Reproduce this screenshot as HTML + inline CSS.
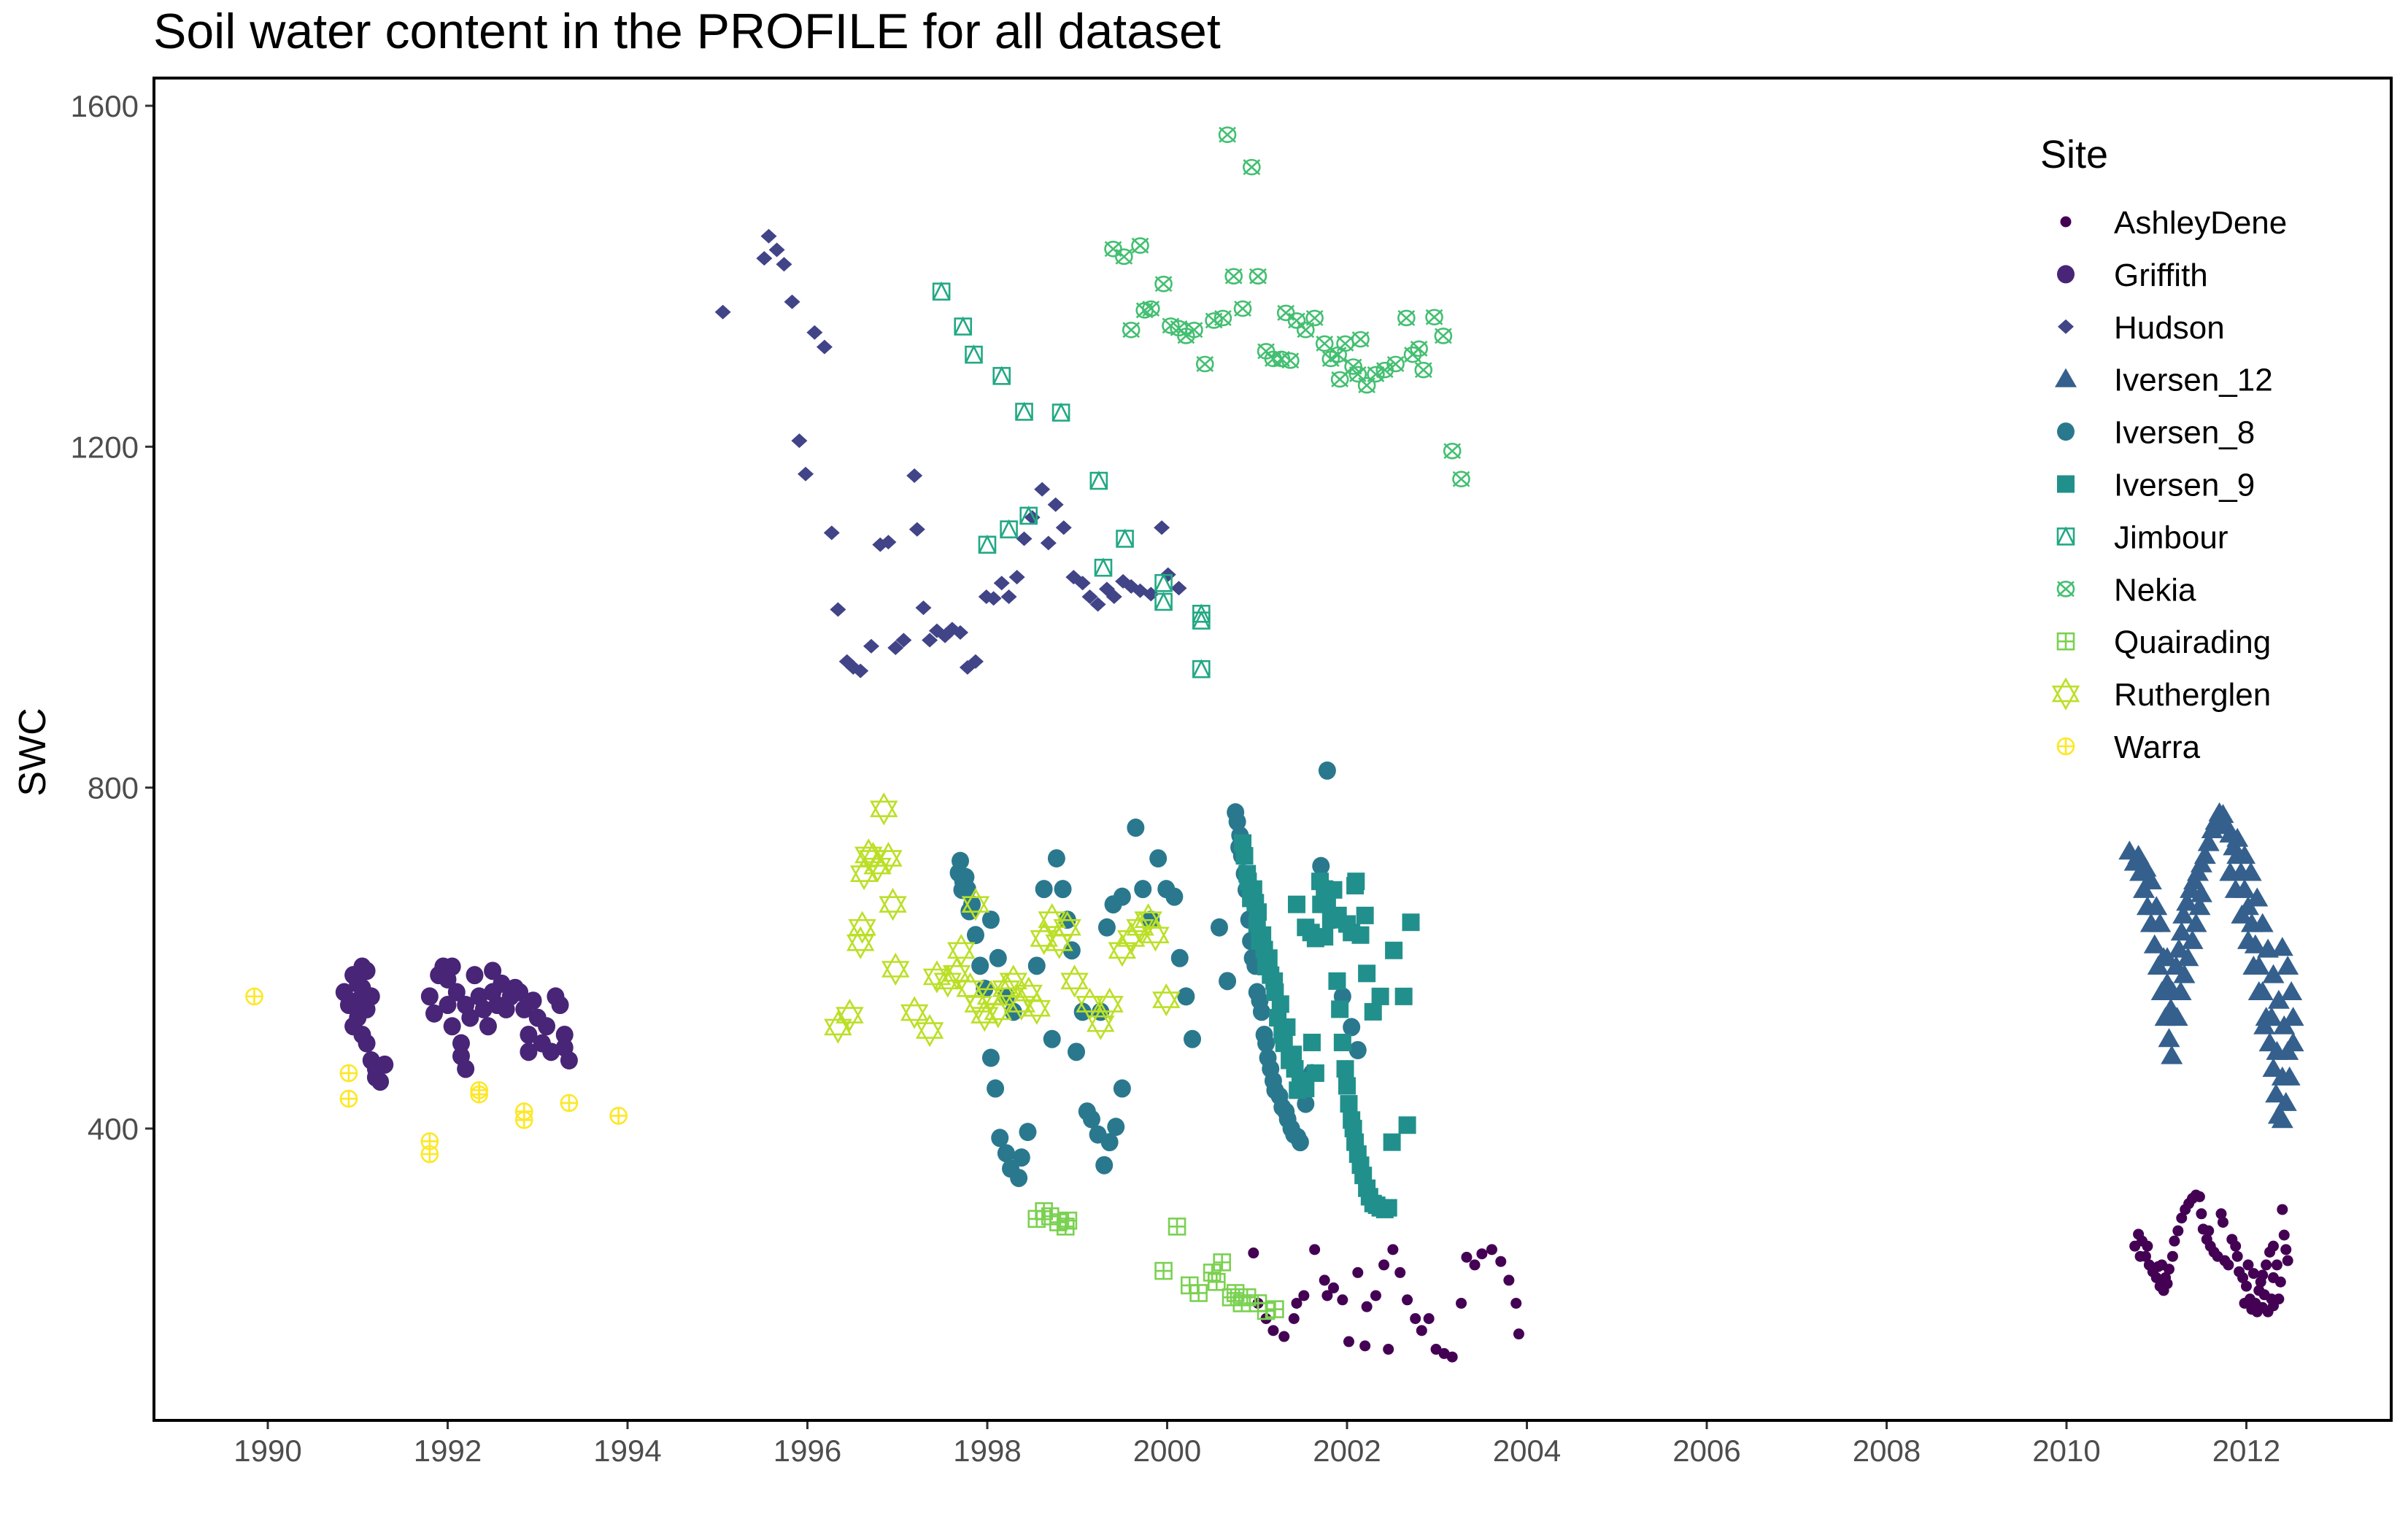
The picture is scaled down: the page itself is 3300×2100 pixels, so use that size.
<!DOCTYPE html>
<html><head><meta charset="utf-8"><style>
html,body{margin:0;padding:0;background:#fff;}
svg{display:block;font-family:"Liberation Sans",sans-serif;}
</style></head><body>
<svg id="chart" width="3300" height="2100" viewBox="0 0 3300 2100" xmlns="http://www.w3.org/2000/svg">
<rect width="3300" height="2100" fill="#fff"/>
<text x="210" y="66" font-size="68" fill="#000">Soil water content in the PROFILE for all dataset</text>
<text x="0" y="0" transform="translate(62,1031) rotate(-90)" text-anchor="middle" font-size="52" fill="#000">SWC</text>
<g id="marks"></g>
<g id="axes"></g>
<rect x="211" y="107" width="3066" height="1840" fill="none" stroke="#000" stroke-width="4"/>
<g id="legend">
<text x="2796" y="230" font-size="54" fill="#000">Site</text>
</g>
</svg>
<script>
const sites = ["AshleyDene","Griffith","Hudson","Iversen_12","Iversen_8","Iversen_9","Jimbour","Nekia","Quairading","Rutherglen","Warra"];
const colors = ["#440154","#482576","#414487","#35608D","#2A788E","#21908C","#22A884","#43BF71","#7AD151","#BBDF27","#FDE725"];
const xTicks = [1990,1992,1994,1996,1998,2000,2002,2004,2006,2008,2010,2012];
const yTicks = [400,800,1200,1600];

const warraX = [1989.85,1990.9,1990.9,1991.8,1991.8,1992.35,1992.35,1992.85,1992.85,1993.35,1993.9];
const warraY = [555,465,435,385,370,445,440,420,410,430,415];

const griffithX = [1990.85,1990.9,1990.95,1991.0,1991.0,1991.05,1991.05,1991.1,1991.1,1991.15,1991.15,1991.2,1991.2,1991.25,1991.3,1991.0,1990.95,1991.1,1991.05,
1991.8,1991.85,1991.9,1991.95,1992.0,1992.0,1992.05,1992.1,1992.15,1992.15,1992.2,1992.25,1992.3,1992.35,1992.4,1992.45,1992.5,1992.55,1992.6,1992.65,1992.7,1992.75,1992.8,1992.85,1992.9,1992.9,1992.95,1993.0,1993.05,1993.1,1993.15,1993.2,1993.25,1993.3,1993.35,1993.3,1992.05,1992.5,1992.2];
const griffithY = [560,545,580,570,530,510,590,585,500,555,480,460,470,455,475,550,520,540,565,
555,535,580,590,575,545,520,560,500,485,470,530,580,555,540,520,560,545,570,540,555,565,560,540,510,490,550,530,500,520,490,555,545,510,480,495,590,585,545];

const hudsonX = [1995.06,1995.52,1995.57,1995.66,1995.74,1995.83,1995.91,1995.98,1996.08,1996.19,1996.27,1996.34,1996.44,1996.51,1996.59,1996.71,1996.81,1996.9,1996.98,1997.07,1997.19,1997.22,1997.29,1997.36,1997.44,1997.53,1997.61,1997.7,1997.78,1997.87,1997.99,1998.07,1998.16,1998.24,1998.33,1998.41,1998.5,1998.61,1998.68,1998.76,1998.85,1998.96,1999.06,1999.14,1999.23,1999.33,1999.41,1999.51,1999.6,1999.7,1999.82,1999.94,2000.01,2000.13];
const hudsonY = [1358,1421,1447,1431,1414,1370,1207,1168,1334,1317,1099,1009,948,941,937,966,1085,1088,964,973,1166,1103,1011,973,984,978,986,982,941,948,1024,1022,1040,1024,1047,1092,1117,1150,1087,1132,1105,1047,1040,1024,1015,1033,1024,1042,1036,1031,1027,1105,1050,1034];

const jimbourX = [1997.49,1997.73,1997.85,1998.16,1998.41,1998.82,1999.24,1999.53,1999.29,1998.0,1998.24,1998.46,1999.96,1999.96,2000.38,2000.38,2000.38];
const jimbourY = [1382,1341,1308,1283,1241,1240,1160,1092,1058,1085,1103,1119,1040,1018,1004,996,939];

const nekiaX = [2000.67,2000.94,1999.4,1999.52,1999.7,1999.96,1999.6,1999.75,1999.82,2000.04,2000.13,2000.21,2000.3,2000.42,2000.52,2000.62,2000.74,2000.84,2001.01,2001.1,2001.18,2001.27,2001.37,2001.32,2001.44,2001.54,2001.64,2001.75,2001.82,2001.9,2001.98,2002.07,2002.15,2002.22,2002.32,2002.42,2002.54,2002.66,2002.73,2002.8,2002.85,2002.97,2003.07,2003.17,2003.27,2001.92,2002.12];
const nekiaY = [1566,1528,1432,1423,1436,1391,1337,1360,1362,1342,1339,1330,1337,1297,1348,1351,1400,1362,1400,1312,1303,1303,1301,1357,1348,1337,1351,1321,1303,1308,1321,1294,1326,1272,1285,1290,1297,1351,1308,1315,1290,1352,1330,1195,1162,1279,1285];

const quairadingX = [1998.55,1998.63,1998.7,1998.79,1998.87,1998.9,2000.11,1999.96,2000.25,2000.35,2000.5,2000.61,2000.76,2000.89,2001.01,2001.1,2001.2,2000.55,2000.71,2000.83];
const quairadingY = [294,303,297,290,285,292,285,233,216,207,231,243,207,202,195,186,188,220,202,195];

const rutherglenX = [1996.34,1996.47,1996.59,1996.61,1996.63,1996.68,1996.73,1996.78,1996.85,1996.9,1996.95,1996.98,1997.19,1997.36,1997.44,1997.56,1997.66,1997.71,1997.81,1997.9,1997.97,1998.04,1998.12,1998.21,1998.29,1998.38,1998.46,1998.55,1998.63,1998.72,1998.8,1998.89,1998.97,1999.14,1999.26,1999.36,1999.5,1999.6,1999.7,1999.79,1999.87,1999.99,1997.87];
const rutherglenY = [519,533,618,636,699,721,717,708,775,717,663,587,536,515,578,573,582,609,564,546,533,555,537,564,573,546,559,541,623,645,618,636,573,546,523,546,609,623,636,645,627,551,663];

const iv8X = [1997.7,1997.73,1997.78,1997.83,1997.87,1997.92,1997.97,1998.04,1998.09,1998.14,1998.21,1998.26,1998.35,1998.38,1998.45,1998.04,1998.12,1998.21,1998.29,1998.55,1998.63,1998.72,1998.77,1998.84,1998.89,1998.94,1998.99,1999.06,1999.11,1999.16,1999.23,1999.3,1999.36,1999.43,1999.5,1999.26,1999.33,1999.4,1999.5,1999.65,1999.73,1999.82,1999.9,1999.99,2000.08,2000.14,2000.21,2000.28,2000.58,2000.67,2000.76,2000.81,2000.86,2000.91,2000.98,2001.05,2001.12,2001.18,2001.25,2001.34,2001.41,2001.48,2001.54,2001.61,2001.78,2001.71,2001.78,2001.85,2001.95,2002.05,2002.12,
2000.78,2000.8,2000.83,2000.88,2000.93,2000.95,2001.0,2001.03,2001.08,2001.1,2001.15,2001.2,2001.28,2001.32,2001.38,2001.45,1997.68,1997.72,1997.76,1997.8];
const iv8Y = [714,690,681,663,627,591,564,483,447,389,371,353,342,366,396,645,600,555,537,591,681,505,717,681,645,609,490,537,420,411,393,357,384,402,447,537,636,663,672,753,681,645,717,681,672,600,555,505,636,573,771,744,699,645,591,537,483,456,438,411,393,384,429,465,820,708,681,645,555,519,492,
760,730,720,680,620,600,560,550,510,500,470,445,425,420,400,390,700,680,695,655];

const iv9X = [2000.84,2000.89,2000.96,2001.01,2001.06,2001.13,2001.19,2001.26,2001.33,2001.4,2001.48,2001.54,2001.61,2001.65,2001.71,2001.75,2001.82,2001.89,2001.95,2002.02,2002.09,2002.15,2002.22,2002.29,2002.37,2002.46,2002.09,2002.15,2002.22,2002.29,2002.37,2002.52,2002.63,2002.71,2002.5,2002.67,2001.44,2001.54,2001.65,
2000.86,2000.9,2000.93,2000.98,2001.0,2001.03,2001.08,2001.1,2001.15,2001.2,2001.23,2001.28,2001.3,2001.36,2001.42,2001.45,2001.92,2001.98,2002.0,2002.05,2002.07,2002.12,2002.18,2002.25,2002.33,2002.42,2001.7,2001.78,2001.85,2001.9,2002.0,2002.05,2002.1,2002.2,2001.6,2001.75];
const iv9Y = [735,699,681,654,627,600,573,546,519,487,456,447,501,623,663,681,645,573,501,429,384,357,330,312,307,307,685,627,582,537,555,609,555,642,384,404,663,636,465,
720,690,670,665,640,620,610,590,580,560,530,510,500,480,470,445,540,470,450,410,400,370,345,320,310,305,690,670,680,650,640,630,690,650,630,625];

const ashX = [2000.96,2001.01,2001.1,2001.18,2001.3,2001.41,2001.52,2001.64,2001.75,2001.85,2001.95,2002.02,2002.12,2002.22,2002.32,2002.41,2002.51,2002.59,2002.67,2002.76,2002.83,2002.91,2002.99,2003.08,2003.17,2003.27,2003.33,2003.42,2003.5,2003.61,2003.71,2003.8,2003.88,2003.91,2001.44,2001.78,2002.46,2002.2,
2010.76,2010.8,2010.84,2010.88,2010.92,2010.96,2011.0,2011.04,2011.08,2011.12,2011.06,2011.14,2011.18,2011.2,2011.24,2011.28,2011.32,2011.36,2011.4,2011.44,2011.48,2011.5,2011.52,2011.56,2011.6,2011.64,2011.68,2011.72,2011.74,2011.76,2011.8,2011.84,2011.88,2011.92,2011.96,2012.0,2012.04,2012.06,2012.1,2012.14,2012.18,2012.22,2012.26,2012.3,2012.34,2012.38,2012.4,2012.42,2012.44,2012.46,2012.36,2012.3,2012.24,2012.18,2012.12,2011.98,2012.02,2012.08,2012.3,2012.2,2010.82,2010.9,2011.02,2011.1,2011.58,2011.9,2012.16,2012.28];
const ashY = [254,195,177,163,156,177,204,258,222,213,199,150,231,191,204,240,258,231,199,177,163,177,141,136,132,195,249,240,253,258,244,222,195,159,195,204,141,145,
262,276,268,250,240,232,225,215,210,218,240,235,250,268,280,295,305,312,318,322,320,300,282,270,262,255,250,300,290,245,240,270,262,232,225,215,200,188,195,210,228,240,255,262,240,220,305,275,258,245,200,192,185,190,185,195,240,230,225,205,250,262,238,225,280,250,220,200];

const iv12X = [2010.7,2010.76,2010.82,2010.86,2010.9,2010.94,2010.98,2011.02,2011.06,2011.1,2011.14,2011.17,
2010.8,2010.88,2010.94,2011.0,2011.04,2011.08,2011.12,2011.16,
2011.12,2011.18,2011.22,2011.25,2011.28,2011.3,2011.34,2011.38,2011.42,2011.46,2011.5,2011.54,2011.58,2011.62,2011.66,2011.7,2011.74,2011.23,2011.27,2011.31,2011.35,2011.4,2011.44,2011.48,2011.5,
2011.78,2011.82,2011.86,2011.9,2011.94,2011.98,2012.02,2012.06,2012.1,2012.14,2012.18,2012.22,2012.26,2012.3,2012.33,2012.36,2012.4,
2011.9,2011.98,2012.05,2012.12,2012.18,2012.24,2012.3,2012.36,2012.42,2012.46,2012.48,2012.44,
2012.4,2012.46,2012.5,2012.52,2012.52,
2011.82,2011.88,2011.95,2012.02,2012.08,2012.14,2012.2,2012.28,2012.34,2012.4];
const iv12Y = [725,712,700,680,660,640,615,590,560,530,505,485,
720,705,690,660,640,600,570,540,
600,560,590,610,630,650,665,680,690,700,710,720,735,750,760,770,768,530,560,580,600,620,640,660,675,
755,745,730,720,700,680,660,640,615,590,560,530,500,470,440,415,410,
740,720,700,670,640,610,580,550,520,490,460,430,
612,590,560,530,500,
700,680,650,620,590,560,520,530,490,460];

const X0=1990, X0px=367, pxPerYear=123.25;
const Y0=1600, Y0px=145, pxPerUnit=1.1683;
function sx(v){return X0px+(v-X0)*pxPerYear;}
function sy(v){return Y0px+(Y0-v)*pxPerUnit;}

const NS="http://www.w3.org/2000/svg";
function mk(tag, attrs){const e=document.createElementNS(NS,tag);for(const k in attrs)e.setAttribute(k,attrs[k]);return e;}

function shape(kind, cx, cy, col){
  const g=mk('g',{});
  const sw=2.6;
  if(kind==='dotS'){g.appendChild(mk('circle',{cx:cx,cy:cy,r:7.5,fill:col}));}
  else if(kind==='dotL'){g.appendChild(mk('ellipse',{cx:cx,cy:cy,rx:12,ry:12.5,fill:col}));}
  else if(kind==='diamond'){g.appendChild(mk('polygon',{points:`${cx},${cy-10} ${cx+11},${cy} ${cx},${cy+10} ${cx-11},${cy}`,fill:col}));}
  else if(kind==='tri'){g.appendChild(mk('polygon',{points:`${cx},${cy-15} ${cx+15},${cy+11} ${cx-15},${cy+11}`,fill:col}));}
  else if(kind==='square'){g.appendChild(mk('rect',{x:cx-12,y:cy-12,width:24,height:24,fill:col}));}
  else if(kind==='sqTri'){g.appendChild(mk('rect',{x:cx-11,y:cy-11,width:22,height:22,fill:'none',stroke:col,'stroke-width':sw}));
    g.appendChild(mk('polyline',{points:`${cx-11},${cy+11} ${cx},${cy-11} ${cx+11},${cy+11}`,fill:'none',stroke:col,'stroke-width':sw}));}
  else if(kind==='cirX'){g.appendChild(mk('ellipse',{cx:cx,cy:cy,rx:11,ry:10,fill:'none',stroke:col,'stroke-width':sw}));
    g.appendChild(mk('path',{d:`M${cx-11},${cy-10}L${cx+11},${cy+10}M${cx+11},${cy-10}L${cx-11},${cy+10}`,stroke:col,'stroke-width':sw}));}
  else if(kind==='sqPlus'){g.appendChild(mk('rect',{x:cx-11,y:cy-11,width:22,height:22,fill:'none',stroke:col,'stroke-width':sw}));
    g.appendChild(mk('path',{d:`M${cx},${cy-11}V${cy+11}M${cx-11},${cy}H${cx+11}`,stroke:col,'stroke-width':sw}));}
  else if(kind==='star'){g.appendChild(mk('polygon',{points:`${cx},${cy-20} ${cx+17},${cy+10} ${cx-17},${cy+10}`,fill:'none',stroke:col,'stroke-width':sw}));
    g.appendChild(mk('polygon',{points:`${cx},${cy+20} ${cx+17},${cy-10} ${cx-17},${cy-10}`,fill:'none',stroke:col,'stroke-width':sw}));}
  else if(kind==='cirPlus'){g.appendChild(mk('circle',{cx:cx,cy:cy,r:11,fill:'none',stroke:col,'stroke-width':sw}));
    g.appendChild(mk('path',{d:`M${cx},${cy-11}V${cy+11}M${cx-11},${cy}H${cx+11}`,stroke:col,'stroke-width':sw}));}
  return g;
}
const kinds=['dotS','dotL','diamond','tri','dotL','square','sqTri','cirX','sqPlus','star','cirPlus'];
const seriesX=[ashX,griffithX,hudsonX,iv12X,iv8X,iv9X,jimbourX,nekiaX,quairadingX,rutherglenX,warraX];
const seriesY=[ashY,griffithY,hudsonY,iv12Y,iv8Y,iv9Y,jimbourY,nekiaY,quairadingY,rutherglenY,warraY];

const marks=document.getElementById('marks');
sites.forEach((s,i)=>{
  const grp=mk('g',{});
  
  
  seriesX[i].forEach((xv,j)=>{
    const p=shape(kinds[i], sx(xv), sy(seriesY[i][j]), colors[i]);
    
    
    grp.appendChild(p);
  });
  marks.appendChild(grp);
});

const axes=document.getElementById('axes');
xTicks.forEach(t=>{
  const x=sx(t);
  const l=mk('line',{x1:x,y1:1947,x2:x,y2:1959,stroke:'#333',"stroke-width":3});
  
  
  axes.appendChild(l);
  const tx=mk('text',{x:x,y:2003,'text-anchor':'middle','font-size':42,fill:'#4D4D4D'});
  tx.textContent=t;
  
  
  axes.appendChild(tx);
});
yTicks.forEach(t=>{
  const y=sy(t);
  const l=mk('line',{x1:199,y1:y,x2:211,y2:y,stroke:'#333',"stroke-width":3});
  
  
  axes.appendChild(l);
  const tx=mk('text',{x:190,y:y+15,'text-anchor':'end','font-size':42,fill:'#4D4D4D'});
  tx.textContent=t;
  
  
  axes.appendChild(tx);
});

const legend=document.getElementById('legend');
sites.forEach((s,i)=>{
  const y=304+i*71.9;
  const e=mk('g',{});
  
  
  e.appendChild(shape(kinds[i],2831,y,colors[i]));
  const tx=mk('text',{x:2897,y:y+16,'font-size':44,fill:'#000'});
  tx.textContent=s;
  e.appendChild(tx);
  legend.appendChild(e);
});
</script>
</body></html>
